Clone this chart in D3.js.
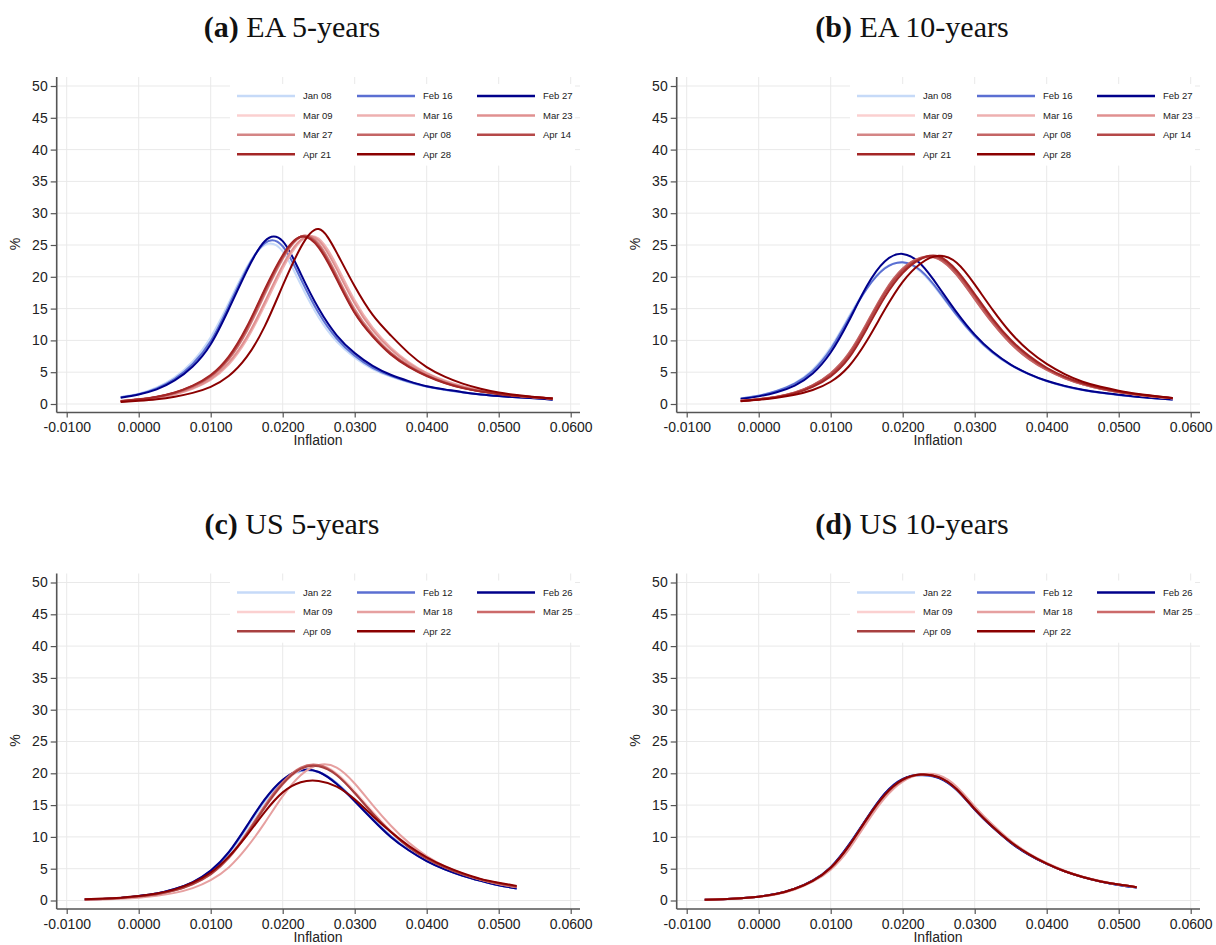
<!DOCTYPE html>
<html>
<head>
<meta charset="utf-8">
<script src="https://cdn.jsdelivr.net/npm/d3@7"></script>
<style>
  body { margin: 0; background: #fff; }
  svg { display: block; }
</style>
</head>
<body>
<svg id="chart" width="1216" height="945"></svg>
<script>
// x grids (inflation) for the two regions
const xsEA = [-0.0025, 0, 0.0025, 0.005, 0.0075, 0.01, 0.0125, 0.015, 0.0175, 0.02, 0.0225, 0.025,
  0.0275, 0.03, 0.0325, 0.035, 0.0375, 0.04, 0.0425, 0.045, 0.0475, 0.05, 0.0525, 0.055, 0.0575];
const xsUS = [-0.0075, -0.005, -0.0025, 0, 0.0025, 0.005, 0.0075, 0.01, 0.0125, 0.015, 0.0175, 0.02,
  0.0225, 0.025, 0.0275, 0.03, 0.0325, 0.035, 0.0375, 0.04, 0.0425, 0.045, 0.0475, 0.05, 0.0525];

const xTicks = [-0.01, 0, 0.01, 0.02, 0.03, 0.04, 0.05, 0.06];
const yTicks = [0, 5, 10, 15, 20, 25, 30, 35, 40, 45, 50];

const labelsEA = ["Jan 08", "Feb 16", "Feb 27", "Mar 09", "Mar 16", "Mar 23", "Mar 27", "Apr 08", "Apr 14", "Apr 21", "Apr 28"];
const colorsEA = ["#c6daf8", "#5b6fd2", "#00008b", "#fbd0d0", "#eeb0b0", "#e09090", "#d48585", "#c46565", "#b54848", "#a42626", "#8b0000"];
const labelsUS = ["Jan 22", "Feb 12", "Feb 26", "Mar 09", "Mar 18", "Mar 25", "Apr 09", "Apr 22"];
const colorsUS = ["#c6daf8", "#5b6fd2", "#00008b", "#fbd0d0", "#e6a0a0", "#cc6a6a", "#a84040", "#8b0000"];

// density values (%) per date
const ea5 = [
  [1.1, 1.6, 2.6, 4.2, 6.7, 10.5, 15.9, 21.5, 25.0, 24.0, 18.8, 13.6, 9.8, 7.3, 5.5, 4.3, 3.4, 2.7, 2.2, 1.8, 1.5, 1.25, 1.05, 0.9, 0.75],
  [1.05, 1.55, 2.45, 3.95, 6.3, 9.9, 15.4, 21.2, 25.3, 24.8, 19.7, 14.3, 10.3, 7.6, 5.7, 4.45, 3.5, 2.75, 2.25, 1.85, 1.5, 1.25, 1.05, 0.9, 0.72],
  [1.0, 1.5, 2.3, 3.7, 5.9, 9.4, 14.9, 20.9, 25.6, 25.6, 20.5, 15.0, 10.8, 8.0, 6.0, 4.6, 3.6, 2.8, 2.3, 1.85, 1.5, 1.25, 1.05, 0.9, 0.68],
  [0.45, 0.7, 1.1, 1.75, 2.8, 4.4, 7.2, 11.9, 17.8, 23.2, 26.3, 24.8, 19.8, 14.5, 10.7, 7.9, 5.9, 4.45, 3.35, 2.55, 2.0, 1.6, 1.3, 1.05, 0.85],
  [0.4, 0.6, 0.95, 1.5, 2.4, 3.8, 6.2, 10.1, 15.5, 21.3, 25.6, 26.0, 21.8, 16.3, 12.0, 8.9, 6.6, 4.9, 3.7, 2.8, 2.15, 1.7, 1.35, 1.08, 0.88],
  [0.4, 0.62, 1.0, 1.55, 2.5, 3.95, 6.5, 10.5, 16.0, 21.8, 25.8, 25.7, 21.2, 15.8, 11.6, 8.6, 6.4, 4.8, 3.6, 2.75, 2.1, 1.65, 1.3, 1.05, 0.85],
  [0.45, 0.68, 1.05, 1.68, 2.7, 4.25, 7.0, 11.4, 17.2, 22.8, 26.3, 25.2, 20.3, 14.9, 11.0, 8.1, 6.05, 4.55, 3.4, 2.6, 2.0, 1.6, 1.3, 1.05, 0.85],
  [0.45, 0.7, 1.1, 1.73, 2.75, 4.35, 7.1, 11.6, 17.5, 23.0, 26.3, 25.0, 20.0, 14.6, 10.8, 8.0, 6.0, 4.5, 3.4, 2.6, 2.0, 1.6, 1.3, 1.05, 0.85],
  [0.47, 0.72, 1.12, 1.78, 2.85, 4.45, 7.3, 11.9, 17.8, 23.2, 26.3, 24.8, 19.8, 14.4, 10.7, 7.9, 5.9, 4.45, 3.35, 2.55, 2.0, 1.6, 1.3, 1.05, 0.85],
  [0.48, 0.74, 1.15, 1.82, 2.9, 4.55, 7.45, 12.1, 18.0, 23.4, 26.3, 24.6, 19.6, 14.3, 10.6, 7.8, 5.85, 4.4, 3.3, 2.5, 1.95, 1.55, 1.25, 1.02, 0.83],
  [0.3, 0.5, 0.75, 1.15, 1.75, 2.7, 4.4, 7.4, 12.2, 18.6, 24.6, 27.5, 23.8, 18.5, 14.0, 10.8, 8.0, 5.8, 4.3, 3.2, 2.4, 1.8, 1.4, 1.1, 0.85]
];

const ea10 = [
  [0.9, 1.35, 2.1, 3.3, 5.4, 8.9, 13.7, 18.3, 21.4, 22.2, 20.8, 17.6, 13.9, 10.6, 8.0, 6.1, 4.7, 3.6, 2.8, 2.2, 1.75, 1.4, 1.12, 0.92, 0.72],
  [0.88, 1.3, 2.05, 3.2, 5.2, 8.6, 13.4, 18.1, 21.3, 22.3, 21.0, 17.8, 14.0, 10.7, 8.1, 6.15, 4.7, 3.6, 2.8, 2.2, 1.75, 1.4, 1.12, 0.92, 0.72],
  [0.8, 1.2, 1.85, 2.9, 4.8, 8.1, 13.0, 18.5, 22.4, 23.6, 22.0, 18.4, 14.4, 10.9, 8.2, 6.2, 4.75, 3.65, 2.85, 2.25, 1.8, 1.45, 1.15, 0.92, 0.7],
  [0.5, 0.75, 1.15, 1.8, 2.95, 4.8, 7.9, 12.6, 17.6, 21.2, 22.9, 22.8, 20.3, 16.5, 12.7, 9.5, 7.1, 5.35, 4.05, 3.1, 2.4, 1.85, 1.45, 1.15, 0.9],
  [0.48, 0.72, 1.1, 1.72, 2.85, 4.6, 7.6, 12.3, 17.3, 21.0, 22.9, 23.0, 20.6, 16.9, 13.0, 9.8, 7.3, 5.5, 4.15, 3.15, 2.45, 1.9, 1.5, 1.18, 0.92],
  [0.5, 0.74, 1.12, 1.76, 2.9, 4.7, 7.75, 12.45, 17.45, 21.1, 22.9, 22.9, 20.5, 16.7, 12.9, 9.7, 7.2, 5.45, 4.1, 3.1, 2.4, 1.88, 1.48, 1.16, 0.9],
  [0.5, 0.75, 1.14, 1.78, 2.92, 4.75, 7.8, 12.5, 17.5, 21.2, 22.95, 22.85, 20.4, 16.6, 12.8, 9.6, 7.15, 5.4, 4.08, 3.1, 2.4, 1.87, 1.47, 1.15, 0.9],
  [0.5, 0.76, 1.15, 1.8, 2.97, 4.85, 7.95, 12.7, 17.7, 21.3, 23.0, 22.8, 20.3, 16.5, 12.7, 9.5, 7.1, 5.35, 4.05, 3.08, 2.38, 1.86, 1.46, 1.15, 0.9],
  [0.49, 0.74, 1.12, 1.75, 2.88, 4.65, 7.65, 12.35, 17.35, 21.0, 22.9, 23.0, 20.7, 17.0, 13.1, 9.9, 7.4, 5.55, 4.2, 3.2, 2.45, 1.9, 1.5, 1.18, 0.92],
  [0.48, 0.72, 1.08, 1.68, 2.7, 4.35, 7.2, 11.8, 16.8, 20.6, 22.8, 23.2, 21.0, 17.3, 13.4, 10.1, 7.6, 5.7, 4.3, 3.25, 2.5, 1.95, 1.52, 1.2, 0.93],
  [0.45, 0.65, 0.97, 1.45, 2.2, 3.5, 5.9, 9.9, 14.8, 19.2, 22.1, 23.3, 22.2, 18.8, 14.8, 11.2, 8.4, 6.3, 4.7, 3.5, 2.7, 2.1, 1.6, 1.25, 0.95]
];

const us5 = [
  [0.15, 0.25, 0.4, 0.7, 1.1, 1.8, 2.85, 4.5, 7.3, 11.3, 15.5, 18.7, 20.3, 20.2, 18.5, 15.8, 12.9, 10.2, 8.0, 6.3, 4.95, 3.95, 3.1, 2.45, 1.9],
  [0.15, 0.25, 0.4, 0.7, 1.1, 1.8, 2.85, 4.6, 7.5, 11.6, 15.8, 18.9, 20.4, 20.2, 18.4, 15.7, 12.8, 10.1, 7.9, 6.2, 4.9, 3.9, 3.1, 2.4, 1.9],
  [0.15, 0.25, 0.4, 0.7, 1.1, 1.8, 2.9, 4.7, 7.6, 11.7, 15.9, 19.0, 20.5, 20.2, 18.3, 15.6, 12.7, 10.0, 7.9, 6.2, 4.9, 3.9, 3.1, 2.4, 1.9],
  [0.13, 0.22, 0.35, 0.6, 0.95, 1.55, 2.5, 4.05, 6.6, 10.3, 14.5, 18.2, 20.6, 21.3, 20.0, 17.2, 14.0, 11.0, 8.6, 6.7, 5.3, 4.2, 3.3, 2.65, 2.1],
  [0.1, 0.17, 0.28, 0.45, 0.75, 1.2, 1.95, 3.2, 5.2, 8.3, 12.2, 16.4, 19.7, 21.3, 20.9, 18.4, 15.0, 11.8, 9.1, 7.0, 5.4, 4.2, 3.3, 2.6, 2.1],
  [0.14, 0.24, 0.38, 0.62, 1.0, 1.6, 2.6, 4.15, 6.8, 10.6, 14.9, 18.6, 20.9, 21.3, 19.8, 16.9, 13.7, 10.8, 8.4, 6.6, 5.2, 4.1, 3.25, 2.6, 2.1],
  [0.15, 0.25, 0.4, 0.65, 1.0, 1.6, 2.6, 4.15, 6.7, 10.4, 14.6, 18.3, 20.7, 21.1, 19.7, 16.9, 13.7, 10.8, 8.4, 6.6, 5.2, 4.1, 3.3, 2.7, 2.2],
  [0.2, 0.3, 0.45, 0.7, 1.1, 1.75, 2.8, 4.4, 6.9, 10.2, 13.9, 17.0, 18.6, 18.8, 17.9, 15.9, 13.3, 10.8, 8.6, 6.8, 5.4, 4.3, 3.4, 2.8, 2.3]
];

const us10 = [
  [0.12, 0.2, 0.35, 0.6, 1.05, 1.85, 3.15, 5.3, 8.8, 13.0, 16.8, 19.1, 19.7, 19.2, 17.3, 14.3, 11.5, 9.1, 7.2, 5.75, 4.6, 3.7, 3.0, 2.45, 2.05],
  [0.12, 0.2, 0.35, 0.6, 1.05, 1.85, 3.15, 5.25, 8.7, 12.9, 16.8, 19.1, 19.7, 19.3, 17.4, 14.3, 11.5, 9.1, 7.2, 5.75, 4.6, 3.7, 3.0, 2.45, 2.05],
  [0.12, 0.2, 0.35, 0.6, 1.05, 1.85, 3.12, 5.2, 8.7, 12.9, 16.8, 19.1, 19.8, 19.3, 17.4, 14.3, 11.5, 9.1, 7.2, 5.75, 4.6, 3.7, 3.0, 2.45, 2.05],
  [0.12, 0.2, 0.35, 0.6, 1.0, 1.8, 3.05, 5.05, 8.4, 12.6, 16.4, 18.9, 19.8, 19.5, 17.6, 14.5, 11.7, 9.3, 7.35, 5.85, 4.65, 3.75, 3.05, 2.5, 2.1],
  [0.11, 0.19, 0.33, 0.57, 0.97, 1.72, 2.95, 4.85, 8.0, 12.2, 16.1, 18.7, 19.8, 19.7, 17.9, 14.8, 11.9, 9.4, 7.4, 5.9, 4.7, 3.75, 3.05, 2.5, 2.1],
  [0.12, 0.2, 0.35, 0.6, 1.02, 1.82, 3.08, 5.1, 8.5, 12.7, 16.5, 18.9, 19.8, 19.4, 17.5, 14.4, 11.6, 9.2, 7.3, 5.8, 4.6, 3.7, 3.0, 2.5, 2.1],
  [0.12, 0.2, 0.35, 0.6, 1.04, 1.84, 3.1, 5.15, 8.55, 12.8, 16.6, 19.0, 19.8, 19.4, 17.5, 14.4, 11.6, 9.2, 7.3, 5.8, 4.6, 3.7, 3.0, 2.5, 2.1],
  [0.12, 0.2, 0.35, 0.6, 1.05, 1.85, 3.1, 5.15, 8.55, 12.8, 16.6, 19.0, 19.8, 19.4, 17.5, 14.4, 11.6, 9.2, 7.3, 5.8, 4.6, 3.7, 3.0, 2.5, 2.1]
];

const svg = d3.select("#chart");
svg.append("rect").attr("width", 1216).attr("height", 945).attr("fill", "#fff");

const sansFont = "'Liberation Sans', Arial, sans-serif";

// Function to draw one panel
function drawPanel(dx, dy, letter, name, xs, values, labels, colors) {
  const g = svg.append("g").attr("transform", `translate(${dx},${dy})`);

  const axisLeftX = 56.7, plotRight = 580, plotTop = 77, axisBottomY = 412.5;
  const x = d3.scaleLinear().domain([-0.01, 0.06]).range([66.7, 570.7]);
  const y = d3.scaleLinear().domain([0, 50]).range([404, 86]);

  // Title
  const title = g.append("text")
    .attr("x", 292).attr("y", 37)
    .attr("text-anchor", "middle")
    .style("font-family", "'Liberation Serif', 'Times New Roman', serif")
    .style("font-size", "30px")
    .attr("fill", "#111");
  title.append("tspan").style("font-weight", "bold").text(`(${letter})`);
  title.append("tspan").text(" " + name);

  // Grid lines
  g.append("g").selectAll("line")
    .data(yTicks)
    .enter()
    .append("line")
    .attr("x1", axisLeftX).attr("x2", plotRight)
    .attr("y1", d => y(d)).attr("y2", d => y(d))
    .attr("stroke", "#e9e9e9").attr("stroke-width", 1);
  g.append("g").selectAll("line")
    .data(xTicks)
    .enter()
    .append("line")
    .attr("x1", d => x(d)).attr("x2", d => x(d))
    .attr("y1", plotTop).attr("y2", axisBottomY)
    .attr("stroke", "#e9e9e9").attr("stroke-width", 1);

  // Legend box covers the grid
  const rows = Math.ceil(labels.length / 3);
  g.append("rect")
    .attr("x", 230).attr("y", 84)
    .attr("width", 345).attr("height", rows * 19.4 + 4)
    .attr("fill", "#fff");

  // Axes
  const yAxis = g.append("g")
    .attr("transform", `translate(${axisLeftX},0)`)
    .call(d3.axisLeft(y).tickValues(yTicks).tickSize(6).tickPadding(3).tickFormat(d3.format("d")));
  yAxis.select(".domain").remove();
  const xAxis = g.append("g")
    .attr("transform", `translate(0,${axisBottomY})`)
    .call(d3.axisBottom(x).tickValues(xTicks).tickSize(5).tickPadding(5).tickFormat(d3.format(".4f")));
  xAxis.select(".domain").remove();
  [yAxis, xAxis].forEach(a => {
    a.selectAll("line").attr("stroke", "#555").attr("stroke-width", 1.2);
    a.selectAll("text")
      .style("font-family", sansFont)
      .style("font-size", "14px")
      .attr("fill", "#222");
  });
  xAxis.selectAll("text").text(d => d3.format(".4f")(d).replace("−", "-"));

  g.append("line")
    .attr("x1", axisLeftX).attr("x2", axisLeftX)
    .attr("y1", plotTop).attr("y2", axisBottomY)
    .attr("stroke", "#555").attr("stroke-width", 1.6);
  g.append("line")
    .attr("x1", axisLeftX).attr("x2", plotRight)
    .attr("y1", axisBottomY).attr("y2", axisBottomY)
    .attr("stroke", "#555").attr("stroke-width", 1.6);

  // Axis titles
  g.append("text")
    .attr("x", 318).attr("y", 445)
    .attr("text-anchor", "middle")
    .style("font-family", sansFont).style("font-size", "14px")
    .attr("fill", "#222")
    .text("Inflation");
  g.append("text")
    .attr("transform", "translate(20,244) rotate(-90)")
    .attr("text-anchor", "middle")
    .style("font-family", sansFont).style("font-size", "14px")
    .attr("fill", "#222")
    .text("%");

  // Density curves
  const line = d3.line()
    .x(d => x(d[0]))
    .y(d => y(d[1]))
    .curve(d3.curveNatural);
  g.append("g").selectAll("path")
    .data(values)
    .enter()
    .append("path")
    .attr("d", v => line(xs.map((xv, i) => [xv, v[i]])))
    .attr("fill", "none")
    .attr("stroke", (v, i) => colors[i])
    .attr("stroke-width", 2);

  // Legend
  const leg = g.append("g").selectAll("g")
    .data(labels)
    .enter()
    .append("g")
    .attr("transform", (d, i) => `translate(${237 + (i % 3) * 120},${96 + Math.floor(i / 3) * 19.4})`);
  leg.append("line")
    .attr("x1", 0).attr("x2", 58)
    .attr("stroke", (d, i) => colors[i])
    .attr("stroke-width", 2.5);
  leg.append("text")
    .attr("x", 66).attr("dy", "0.35em")
    .style("font-family", sansFont).style("font-size", "9.5px")
    .attr("fill", "#222")
    .text(d => d);
}

drawPanel(0, 0, "a", "EA 5-years", xsEA, ea5, labelsEA, colorsEA);
drawPanel(620, 0, "b", "EA 10-years", xsEA, ea10, labelsEA, colorsEA);
drawPanel(0, 496.5, "c", "US 5-years", xsUS, us5, labelsUS, colorsUS);
drawPanel(620, 496.5, "d", "US 10-years", xsUS, us10, labelsUS, colorsUS);
</script>
</body>
</html>
